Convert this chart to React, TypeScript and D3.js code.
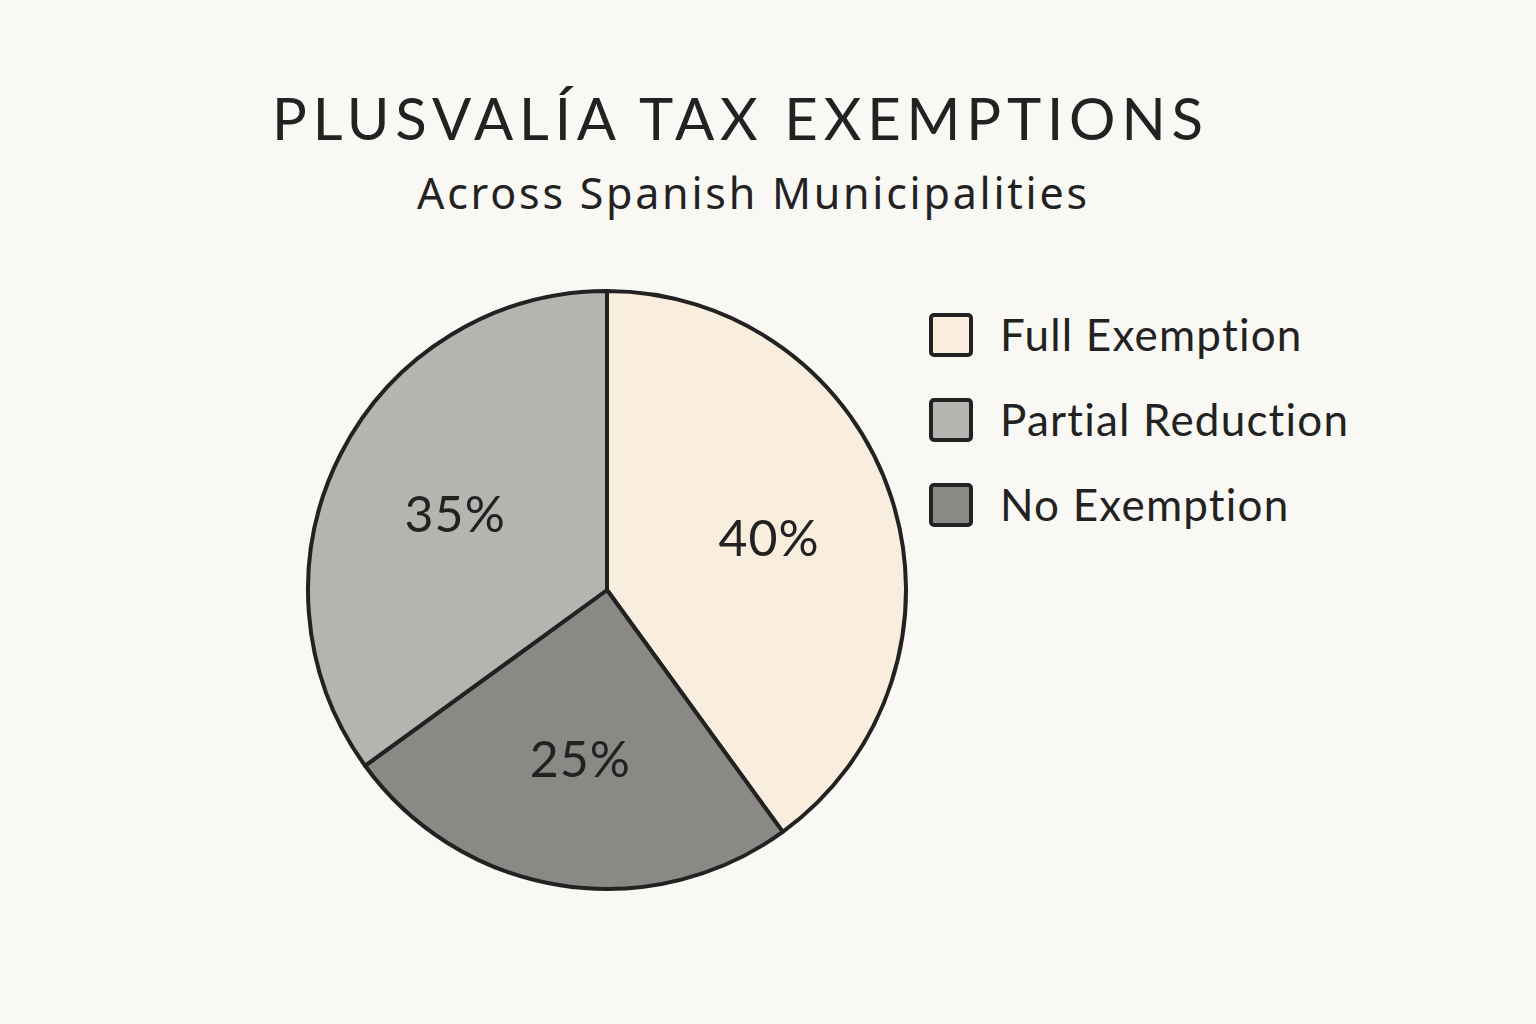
import React from "react";
import * as d3 from "d3";

const categories = ["Full Exemption", "No Exemption", "Partial Reduction"];
const values = [40, 25, 35];
const colors = ["#f9eddd", "#8b8986", "#b6b4b0"];
const legendOrder = ["Full Exemption", "Partial Reduction", "No Exemption"];
const titleText = "PLUSVALÍA TAX EXEMPTIONS";
const subtitleText = "Across Spanish Municipalities";

const W = 1536;
const H = 1024;
const FONT = "Lato, 'Noto Sans', sans-serif";
const FONT2 = "'Noto Sans', Lato, sans-serif";

export default function App() {
  const cx = 607;
  const cy = 590;
  const r = 299;
  const data = categories.map((c, i) => ({ c, v: values[i], color: colors[i] }));
  const pie = d3.pie<any>().value((d: any) => d.v).sort(null);
  const arcs = pie(data);
  const arc = d3.arc<any>().innerRadius(0).outerRadius(r);
  const labelArc = d3.arc<any>().innerRadius(r * 0.57).outerRadius(r * 0.57);
  const colorOf = d3.scaleOrdinal<string, string>().domain(categories).range(colors);
  const legendY = d3.scalePoint<string>().domain(legendOrder).range([334, 504]);

  return (
    <svg width={W} height={H} style={{ display: "block", position: "absolute", left: 0, top: 0, fontVariantLigatures: "none" }}>
      <rect x={0} y={0} width={W} height={H} fill="#faf8f4" />
      <text x={272} y={140} fontFamily={FONT} fontSize={58} fill="#222" textLength={931} lengthAdjust="spacing">
        {titleText}
      </text>
      <text x={417} y={209} fontFamily={FONT2} fontSize={43} fill="#222" textLength={670} lengthAdjust="spacing">
        {subtitleText}
      </text>
      <g transform={`translate(${cx},${cy})`}>
        {arcs.map((a, i) => (
          <path key={i} d={arc(a) as string} fill={a.data.color} stroke="#222" strokeWidth={4} strokeLinejoin="round" />
        ))}
        {arcs.map((a, i) => {
          const [x, y] = labelArc.centroid(a);
          return (
            <text key={"l" + i} x={x} y={y} textAnchor="middle" dominantBaseline="central" fontFamily={FONT} fontSize={50} fill="#222" letterSpacing={1}>
              {a.data.v}%
            </text>
          );
        })}
      </g>
      {legendOrder.map((c) => (
        <g key={c} transform={`translate(929,${legendY(c)})`}>
          <rect x={2} y={-19} width={40} height={40} rx={3} fill={colorOf(c)} stroke="#222" strokeWidth={4} />
          <text x={71} y={0} dominantBaseline="central" fontFamily={FONT} fontSize={44} fill="#222" letterSpacing={1.2}>
            {c}
          </text>
        </g>
      ))}
    </svg>
  );
}
